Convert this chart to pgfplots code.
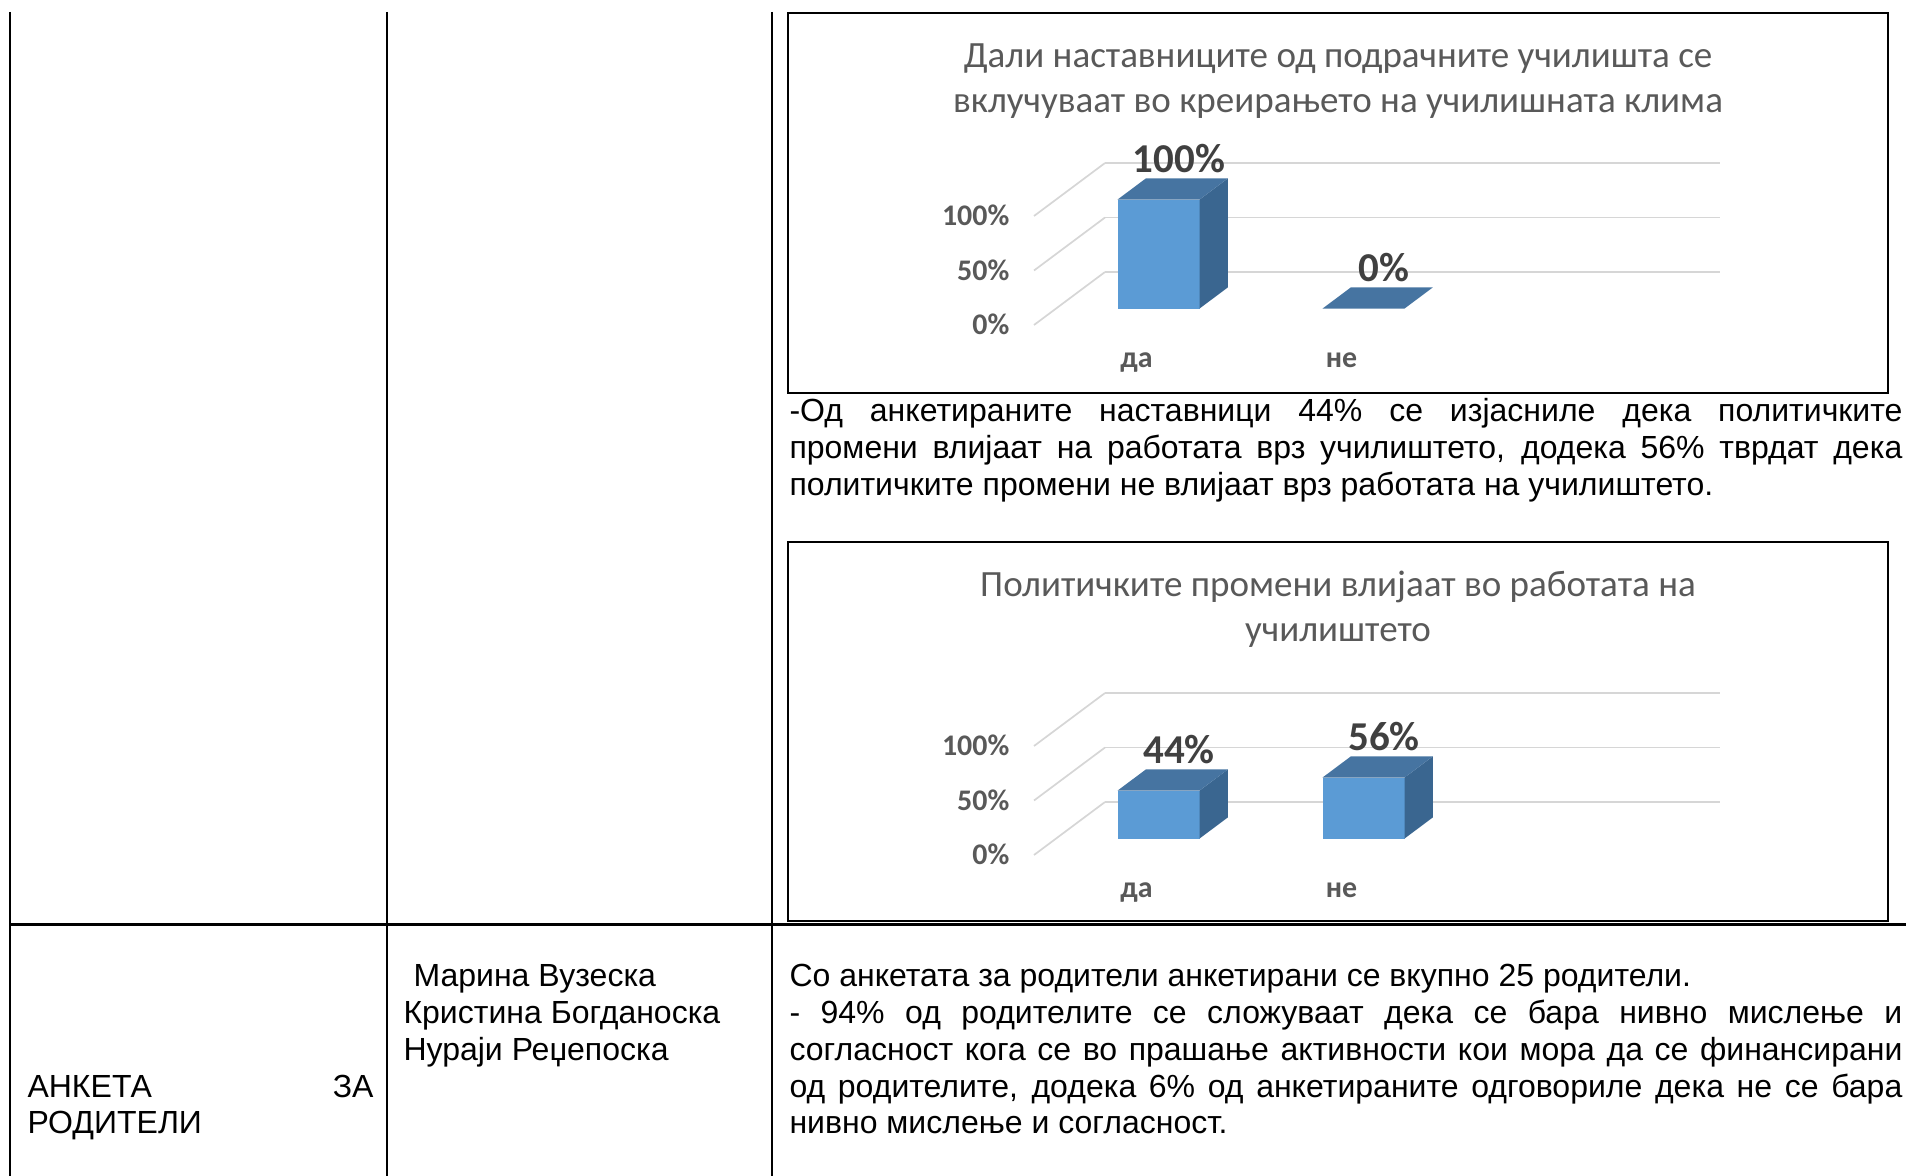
\documentclass[border=0pt]{standalone}
\usepackage{fontspec}
\setmainfont{Liberation Sans}
\newfontfamily\chartfont{Carlito}
\usepackage{pgfplots}
\pgfplotsset{compat=1.18}
\definecolor{barfront}{HTML}{5B9BD5}
\definecolor{barside}{HTML}{3A6690}
\definecolor{bartop}{HTML}{4674A1}
\definecolor{gridc}{HTML}{D6D6D6}
\definecolor{tickc}{HTML}{595959}
\definecolor{labc}{HTML}{404040}
\pgfplotsset{
  bar3d/.style={
    /pgf/number format/assume math mode=true,
    x={(77.49pt,0pt)}, y={(26.84pt,20.03pt)}, z={(0pt,0.412pt)},
    xmin=0, xmax=3, ymin=0, ymax=1, zmin=0, zmax=100,
    enlargelimits=false, clip=false,
    anchor=origin,
    axis line style={draw=none},
    major tick length=0pt,
    tick style={draw=none},
    xtick={0.5,1.5}, xticklabels={да,не},
    ytick=\empty,
    ztick={0,50,100},
    zticklabel={\pgfmathprintnumber{\tick}\%},
    zmajorgrids=true, xmajorgrids=false, ymajorgrids=false,
    grid style={draw=gridc, line width=0.65pt},
    xticklabel style={font=\chartfont\bfseries\fontsize{11.3}{13}\selectfont, text=tickc, anchor=base, yshift=-15.9pt},
    zticklabel style={font=\chartfont\bfseries\fontsize{11.3}{13}\selectfont, text=tickc, anchor=east, xshift=-5.8pt, yshift=0.2pt},
  },
  face/.style={draw=none, fill=#1, forget plot},
  vallabels/.style={draw=none, mark=none, point meta=z,
    nodes near coords={\pgfmathprintnumber{\pgfplotspointmeta}\%},
    nodes near coords style={font=\chartfont\bfseries\fontsize{15.5}{17}\selectfont, text=labc, inner sep=0pt, yshift=4.2pt}},
}
\begin{document}
\begin{tikzpicture}[x=0.378pt,y=-0.378pt]
\useasboundingbox (0,0) rectangle (1906,1176);
\coordinate (o1) at (1034,325);
\coordinate (o2) at (1034,855);
% table lines
\draw[line width=0.6pt] (10,12) -- (10,1176);
\draw[line width=0.6pt] (387,12) -- (387,1176);
\draw[line width=0.6pt] (772,12) -- (772,1176);
\draw[line width=1.2pt] (10,924.5) -- (1906,924.5);
% chart boxes
\draw[line width=1.1pt] (788,13) rectangle (1888,393);
\draw[line width=1.1pt] (788,542) rectangle (1888,921);
% chart titles
\node[anchor=base, inner sep=0pt, font=\chartfont\fontsize{14}{16}\selectfont, text=tickc] at (1338,68) {Дали наставниците од подрачните училишта се};
\node[anchor=base, inner sep=0pt, font=\chartfont\fontsize{14}{16}\selectfont, text=tickc] at (1338,113) {вклучуваат во креирањето на училишната клима};
\node[anchor=base, inner sep=0pt, font=\chartfont\fontsize{14}{16}\selectfont, text=tickc] at (1338,597) {Политичките промени влијаат во работата на};
\node[anchor=base, inner sep=0pt, font=\chartfont\fontsize{14}{16}\selectfont, text=tickc] at (1338,642) {училиштето};
% chart 1
\begin{axis}[bar3d, at={(o1)}]
\addplot3[face=barfront] coordinates {(0.3,0.31,0) (0.7,0.31,0) (0.7,0.31,100) (0.3,0.31,100)} -- cycle;
\addplot3[face=barside] coordinates {(0.7,0.31,0) (0.7,0.71,0) (0.7,0.71,100) (0.7,0.31,100)} -- cycle;
\addplot3[face=bartop] coordinates {(0.3,0.31,100) (0.7,0.31,100) (0.7,0.71,100) (0.3,0.71,100)} -- cycle;
\addplot3[face=bartop] coordinates {(1.3,0.31,0) (1.7,0.31,0) (1.7,0.71,0) (1.3,0.71,0)} -- cycle;
\addplot3[vallabels] coordinates {(0.5,0.6,100) (1.5,0.6,0)};
\end{axis}
% chart 2
\begin{axis}[bar3d, at={(o2)}]
\addplot3[face=barfront] coordinates {(0.3,0.31,0) (0.7,0.31,0) (0.7,0.31,44) (0.3,0.31,44)} -- cycle;
\addplot3[face=barside] coordinates {(0.7,0.31,0) (0.7,0.71,0) (0.7,0.71,44) (0.7,0.31,44)} -- cycle;
\addplot3[face=bartop] coordinates {(0.3,0.31,44) (0.7,0.31,44) (0.7,0.71,44) (0.3,0.71,44)} -- cycle;
\addplot3[face=barfront] coordinates {(1.3,0.31,0) (1.7,0.31,0) (1.7,0.31,56) (1.3,0.31,56)} -- cycle;
\addplot3[face=barside] coordinates {(1.7,0.31,0) (1.7,0.71,0) (1.7,0.71,56) (1.7,0.31,56)} -- cycle;
\addplot3[face=bartop] coordinates {(1.3,0.31,56) (1.7,0.31,56) (1.7,0.71,56) (1.3,0.71,56)} -- cycle;
\addplot3[vallabels] coordinates {(0.5,0.6,44) (1.5,0.6,56)};
\end{axis}
% body text
\begin{scope}[every node/.style={anchor=base west, inner sep=0pt, font=\fontsize{12.1}{14}\selectfont}]
\node at (789,422) {\makebox[420.7pt][s]{-Од анкетираните наставници 44\% се изјасниле дека политичките}};
\node at (789,458.7) {\makebox[420.7pt][s]{промени влијаат на работата врз училиштето, додека 56\% тврдат дека}};
\node at (789,495.4) {политичките промени не влијаат врз работата на училиштето.};
\node at (789,987) {Со анкетата за родители анкетирани се вкупно 25 родители.};
\node at (789,1023.7) {\makebox[420.7pt][s]{- 94\% од родителите се сложуваат дека се бара нивно мислење и}};
\node at (789,1060.4) {\makebox[420.7pt][s]{согласност кога се во прашање активности кои мора да се финансирани}};
\node at (789,1097.1) {\makebox[420.7pt][s]{од родителите, додека 6\% од анкетираните одговориле дека не се бара}};
\node at (789,1133.8) {нивно мислење и согласност.};
\node at (413,987) {Марина Вузеска};
\node at (403,1023.7) {Кристина Богданоска};
\node at (403,1060.4) {Нураји Реџепоска};
\node at (27,1097.1) {\makebox[130.8pt][s]{АНКЕТА ЗА}};
\node at (27,1133.8) {РОДИТЕЛИ};
\end{scope}
\end{tikzpicture}
\end{document}
